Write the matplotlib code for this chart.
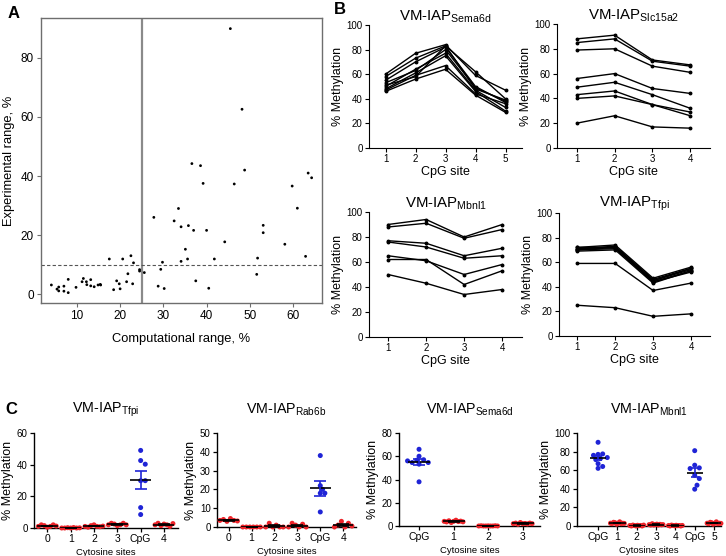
import matplotlib
matplotlib.use('Agg')
import matplotlib.pyplot as plt
import numpy as np

plt.rcParams['font.family'] = ['Liberation Sans', 'DejaVu Sans']
plt.rcParams['mathtext.fontset'] = 'custom'
plt.rcParams['mathtext.rm'] = 'Liberation Sans'

# ---------------- Panel A data ----------------
comp_range = [4.1, 5.4, 5.8, 5.8, 7.0, 7.0, 8.0, 8.0, 9.8, 11.5, 11.2, 12.2, 12.3, 13.2, 13.2,
              14.0, 14.9, 15.4, 15.5, 17.5, 18.5, 19.2, 19.8, 20.0, 20.6, 21.5, 21.8, 22.5,
              22.9, 23.1, 24.5, 24.5, 25.6, 27.8, 28.8, 29.4, 29.8, 30.2, 32.5, 33.5, 34.1,
              34.1, 35.1, 35.6, 35.8, 37.0, 37.5, 39.2, 40.0, 40.5, 41.8, 44.2, 46.4, 51.6,
              51.8, 53.1, 53.1, 58.1, 59.8, 61.0, 62.9, 45.5, 48.2, 36.6, 38.6, 48.8, 63.5, 64.3]
exp_range = [3.1, 1.7, 2.4, 1.1, 2.7, 1.0, 5.0, 0.5, 2.3, 5.3, 4.2, 4.2, 3.2, 4.9, 2.8,
             2.5, 3.1, 3.3, 3.1, 11.9, 1.5, 4.5, 3.5, 1.8, 11.9, 4.2, 6.9, 13.0,
             3.5, 10.6, 8.3, 7.8, 7.3, 26.0, 2.7, 8.4, 10.8, 1.9, 24.8, 29.0, 22.8,
             11.1, 15.2, 11.9, 23.2, 21.6, 4.5, 37.5, 21.6, 2.0, 11.9, 17.7, 37.3, 6.7,
             12.2, 23.3, 20.8, 16.9, 36.6, 29.1, 12.8, 89.9, 62.6, 44.2, 43.5, 42.0, 41.0, 39.4]
comp_threshold = 25
exp_threshold = 10

# ---------------- Panel B data ----------------
sema6d_sites = [1, 2, 3, 4, 5]
sema6d_lines = [
    [60, 77, 84, 59, 47],
    [58, 73, 83, 62, 40],
    [55, 70, 82, 50, 37],
    [53, 63, 80, 49, 38],
    [51, 58, 83, 48, 39],
    [50, 64, 77, 47, 33],
    [48, 61, 75, 46, 30],
    [47, 59, 67, 44, 36],
    [46, 56, 64, 43, 29],
]
slc15a2_sites = [1, 2, 3, 4]
slc15a2_lines = [
    [88, 91, 71, 67],
    [85, 88, 70, 66],
    [79, 80, 66, 61],
    [56, 60, 48, 44],
    [49, 53, 43, 32],
    [43, 46, 35, 29],
    [40, 42, 35, 26],
    [20, 26, 17, 16],
]
mbnl1_sites = [1, 2, 3, 4]
mbnl1_lines = [
    [90, 94, 80, 90],
    [88, 91, 79, 86],
    [77, 75, 65, 71],
    [76, 72, 63, 65],
    [65, 61, 50, 58],
    [62, 62, 42, 53],
    [50, 43, 34, 38],
]
tfpi_sites = [1, 2, 3, 4]
tfpi_lines = [
    [72, 74, 47, 56],
    [71, 73, 46, 55],
    [71, 72, 45, 54],
    [70, 72, 44, 53],
    [70, 71, 44, 52],
    [69, 70, 43, 53],
    [72, 72, 45, 55],
    [59, 59, 37, 43],
    [25, 23, 16, 18],
]

# ---------------- Panel C data ----------------
c_tfpi_labels = ['0', '1', '2', '3', 'CpG', '4']
c_tfpi_values = [
    [1.0, 2.0, 1.5, 0.5, 1.0, 2.0, 1.2],
    [0.0, 0.0, 0.2, 0.0, 0.3, 0.0, 0.1],
    [1.0, 0.5, 1.5, 2.0, 1.0, 0.8, 1.2],
    [2.0, 3.0, 2.5, 1.5, 2.0, 3.0, 2.0],
    [49, 42.6, 40.3, 29.9, 29.9, 12.9, 8.5],
    [2.0, 3.0, 1.5, 2.5, 2.0, 1.0, 2.8],
]
c_rab6b_labels = ['0', '1', '2', '3', 'CpG', '4']
c_rab6b_values = [
    [3.5, 4.0, 3.0, 4.5, 3.5, 3.2],
    [0.0, 0.0, 0.0, 0.0, 0.0, 0.0],
    [0.0, 2.0, 0.0, 1.0, 0.0, 0.0],
    [0.0, 2.0, 1.0, 0.0, 1.5, 0.0],
    [38, 22, 20, 18, 18, 8],
    [0.0, 1.0, 3.0, 0.0, 2.0, 0.5],
]
c_sema6d_labels = ['CpG', '1', '2', '3']
c_sema6d_values = [
    [66, 60, 57, 56.6, 54.6, 54.6, 53.2, 56, 38],
    [4.0, 3.5, 4.5, 3.0, 4.0, 5.0, 3.8, 4.2, 3.6],
    [0.0, 0.2, 0.0, 0.0, 0.1, 0.0, 0.0, 0.2, 0.0],
    [2.0, 2.5, 1.5, 3.0, 2.0, 2.2, 1.8, 2.5, 2.0],
]
c_mbnl1_labels = ['CpG', '1', '2', '3', '4', 'CpG', '5']
c_mbnl1_values = [
    [90, 77, 77.5, 76, 73.6, 72.5, 71.4, 67, 62, 64],
    [3.0, 2.5, 4.0, 3.5, 2.0, 3.0, 4.5, 2.5, 3.0, 2.8],
    [0.5, 0.0, 1.0, 0.5, 0.0, 0.8, 0.3, 0.5, 0.0, 1.0],
    [1.5, 1.0, 2.5, 1.0, 1.5, 2.0, 1.0, 1.8, 1.2, 1.5],
    [0.5, 0.0, 1.0, 0.5, 0.2, 0.8, 0.3, 0.5, 0.0, 0.6],
    [81, 65.4, 62.5, 61.8, 54.6, 51, 39.6, 43.9],
    [3.0, 2.5, 4.0, 3.5, 2.0, 3.0, 4.5, 2.5, 3.0, 2.8],
]

BLUE = '#1f24d6'
RED = '#ec2329'

W, H = 726, 556
fig = plt.figure(figsize=(W / 100, H / 100), dpi=100)


def add_axes_px(left, top, right, bottom):
    return fig.add_axes([left / W, 1 - bottom / H, (right - left) / W, (bottom - top) / H])


# ---------------- Panel A ----------------
axA = add_axes_px(41, 18, 322, 303)
axA.scatter(comp_range, exp_range, s=4, color='black', edgecolors='none', zorder=3)
axA.axvline(comp_threshold, color='#8a8a8a', lw=1.6, zorder=2)
axA.axhline(exp_threshold, color='#555555', lw=0.8, ls=(0, (3, 2)), zorder=2)
axA.set_xlim(1.7, 66.7)
axA.set_ylim(-3, 93.5)
axA.set_xticks([10, 20, 30, 40, 50, 60])
axA.set_yticks([0, 20, 40, 60, 80])
for s in axA.spines.values():
    s.set_color('#6e6e6e')
    s.set_linewidth(1.0)
axA.tick_params(labelsize=8.5, length=3, width=0.8, color='#6e6e6e', pad=2)
axA.set_xlabel('Computational range, %', fontsize=9.3, labelpad=8)
axA.set_ylabel('Experimental range, %', fontsize=9.3, labelpad=4)


# ---------------- Panel B ----------------
def line_panel(box, sites, lines, xlim, sub, xticks):
    ax = add_axes_px(*box)
    for vals in lines:
        ax.plot(sites, vals, color='black', lw=1.0, marker='o', ms=1.8, zorder=3)
    ax.set_xlim(*xlim)
    ax.set_ylim(0, 100)
    ax.set_yticks([0, 20, 40, 60, 80, 100])
    ax.set_xticks(xticks)
    ax.spines['top'].set_visible(False)
    ax.spines['right'].set_visible(False)
    ax.tick_params(labelsize=7, length=3, width=0.8, pad=1.5)
    ax.set_xlabel('CpG site', fontsize=9, labelpad=1)
    ax.set_ylabel('% Methylation', fontsize=9, labelpad=2)
    ax.set_title(r'VM-IAP$_{\mathregular{%s}}$' % sub, fontsize=10.8, pad=2)
    return ax


line_panel((369, 25, 522, 148), sema6d_sites, sema6d_lines, (0.45, 5.55), 'Sema6d', sema6d_sites)
line_panel((557, 24, 710, 148), slc15a2_sites, slc15a2_lines, (0.48, 4.52), 'Slc15a2', slc15a2_sites)
line_panel((369, 212, 522, 337), mbnl1_sites, mbnl1_lines, (0.5, 4.52), 'Mbnl1', mbnl1_sites)
line_panel((559, 213, 710, 336), tfpi_sites, tfpi_lines, (0.52, 4.5), 'Tfpi', tfpi_sites)


# ---------------- Panel C ----------------
def swarm_offsets(vals, ypx, xpx, diam):
    placed = []
    offs = []
    for v in vals:
        cands = [0]
        for k in range(1, 12):
            cands += [k * 0.5, -k * 0.5]
        for c in cands:
            ok = True
            for (pv, po) in placed:
                dy = (v - pv) * ypx
                dx = (c - po) * diam
                if dx * dx + dy * dy < diam * diam * 0.9:
                    ok = False
                    break
            if ok:
                break
        placed.append((v, c))
        offs.append(c * diam / xpx)
    return np.array(offs)


def dot_panel(box, labels, groups, ylim, yticks, xlim, sub, hw, title_y):
    ax = add_axes_px(*box)
    h_px = box[3] - box[1]
    w_px = box[2] - box[0]
    ypx = h_px / (ylim[1] - ylim[0])
    xpx = w_px / (xlim[1] - xlim[0])
    for i, (lab, vals) in enumerate(zip(labels, groups)):
        vals = np.asarray(vals, float)
        is_cpg = lab == 'CpG'
        col = BLUE if is_cpg else RED
        if is_cpg:
            offs = swarm_offsets(vals, ypx, xpx, 4.6)
        else:
            offs = np.linspace(-hw * 0.85, hw * 0.85, len(vals))
        ax.scatter(i + offs, vals, s=13, color=col, edgecolors='none', zorder=3, clip_on=False)
        m = vals.mean()
        se = vals.std(ddof=1) / np.sqrt(len(vals))
        ax.hlines(m, i - hw, i + hw, color='black', lw=1.2, zorder=4)
        ax.errorbar(i, m, yerr=se, color=(BLUE if is_cpg else 'black'), lw=1.2,
                    capsize=hw * 0.55 * xpx * 0.72, capthick=1.2, zorder=4)
    ax.set_xlim(*xlim)
    ax.set_ylim(*ylim)
    ax.set_yticks(yticks)
    ax.set_xticks(range(len(labels)))
    ax.set_xticklabels(labels)
    ax.spines['top'].set_visible(False)
    ax.spines['right'].set_visible(False)
    ax.spines['left'].set_linewidth(1.0)
    ax.spines['bottom'].set_linewidth(1.0)
    ax.tick_params(labelsize=7, length=3, width=0.9, pad=1.5)
    ax.tick_params(axis='x', labelsize=7.5)
    ax.set_xlabel('Cytosine sites', fontsize=6.8, labelpad=3)
    ax.set_ylabel('% Methylation', fontsize=9, labelpad=2)
    cx = (box[0] + box[2]) / 2 / W
    fig.text(cx, 1 - title_y / H, r'VM-IAP$_{\mathregular{%s}}$' % sub, fontsize=10.3,
             ha='center', va='center')
    return ax


dot_panel((34, 433, 178, 528), c_tfpi_labels, c_tfpi_values, (0, 60), [0, 20, 40, 60],
          (-0.57, 5.6), 'Tfpi', 0.45, 410)
dot_panel((217, 433, 356, 527), c_rab6b_labels, c_rab6b_values, (0, 50), [0, 10, 20, 30, 40, 50],
          (-0.51, 5.56), 'Rab6b', 0.45, 410)
dot_panel((399, 433, 540, 526), c_sema6d_labels, c_sema6d_values, (0, 80), [0, 20, 40, 60, 80],
          (-0.58, 3.5), 'Sema6d', 0.32, 410)
dot_panel((577, 433, 721, 526), c_mbnl1_labels, c_mbnl1_values, (0, 100), [0, 20, 40, 60, 80, 100],
          (-1.09, 6.36), 'Mbnl1', 0.42, 410)

# Panel letters
fig.text(8 / W, 1 - 13 / H, 'A', fontsize=12, fontweight='bold', va='center', ha='left')
fig.text(334 / W, 1 - 10 / H, 'B', fontsize=12, fontweight='bold', va='center', ha='left')
fig.text(5 / W, 1 - 410 / H, 'C', fontsize=12, fontweight='bold', va='center', ha='left')

fig.savefig('out.png', dpi=100)
